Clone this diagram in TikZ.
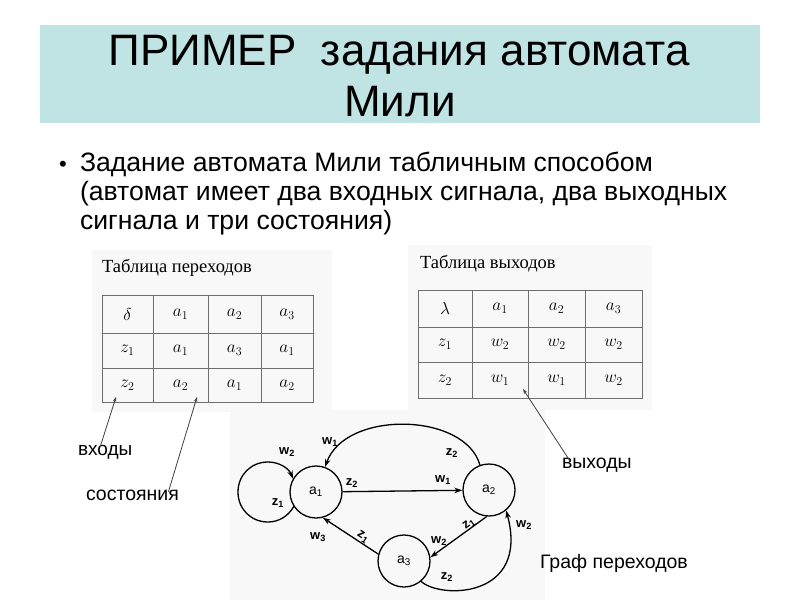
\documentclass[tikz,border=0pt]{standalone}
\usepackage{fontspec}
\setmainfont{Liberation Sans}
\newfontfamily\scanserif{Liberation Serif}
\usetikzlibrary{arrows.meta}
\definecolor{titlebg}{RGB}{192,227,228}
\definecolor{scanbg}{RGB}{248,248,248}
\definecolor{gridc}{RGB}{110,110,110}
\newcommand{\sub}[2]{#1\textsubscript{#2}}
\begin{document}
\begin{tikzpicture}[x=1pt,y=-1pt,
  txt/.style={inner sep=0pt,outer sep=0pt},
  cell/.style={inner sep=0pt,font=\fontsize{18}{18}\selectfont},
  gline/.style={draw=gridc,line width=0.8pt},
  ptr/.style={draw=black!75,line width=0.8pt,-{Stealth[length=5pt,width=3.5pt]}},
  state/.style={circle,draw,line width=1.3pt,minimum size=52pt,inner sep=0pt,font=\fontsize{14}{14}\selectfont},
  edge/.style={draw,line width=1.3pt,-{Stealth[length=8pt,width=5.5pt]}},
  elab/.style={inner sep=0pt,font=\fontsize{13}{13}\selectfont\bfseries}
]
\useasboundingbox (0,0) rectangle (800,600);
\fill[white] (0,0) rectangle (800,600);
% title band
\fill[titlebg] (40,25) rectangle (760,123);
\node[txt,anchor=base] (t1) at (399,65) {\fontsize{44}{44}\selectfont ПРИМЕР\ \ задания автомата};
\node[txt,anchor=base] (t2) at (400,116) {\fontsize{44}{44}\selectfont Мили};
% bullet text
\node[txt,anchor=base] (bul) at (63,171) {\fontsize{22}{22}\selectfont •};
\node[txt,anchor=base west] (b1) at (80,171) {\fontsize{26.6}{26.6}\selectfont Задание автомата Мили табличным способом};
\node[txt,anchor=base west] (b2) at (80,200) {\fontsize{26.6}{26.6}\selectfont (автомат имеет два входных сигнала, два выходных};
\node[txt,anchor=base west] (b3) at (80,229) {\fontsize{26.6}{26.6}\selectfont сигнала и три состояния)};
% scanned backgrounds
\fill[scanbg] (92,250) rectangle (332,412);
\fill[scanbg] (408,245) rectangle (652,410);
\fill[scanbg] (230,410) rectangle (545,600);
% left table
\node[txt,anchor=base west] (lt) at (102,272) {\fontsize{18.5}{18.5}\selectfont\scanserif Таблица переходов};
\draw[gline] (102,295) rectangle (313,402);
\draw[gline] (102,333) -- (313,333) (102,368) -- (313,368);
\draw[gline] (153,295) -- (153,402) (208,295) -- (208,402) (261,295) -- (261,402);
\node[cell] (L00) at (127.5,314) {$\delta$};
\node[cell] (L01) at (180.5,314) {$a_1$};
\node[cell] (L02) at (234.5,314) {$a_2$};
\node[cell] (L03) at (287,314) {$a_3$};
\node[cell] (L10) at (127.5,350.5) {$z_1$};
\node[cell] (L11) at (180.5,350.5) {$a_1$};
\node[cell] (L12) at (234.5,350.5) {$a_3$};
\node[cell] (L13) at (287,350.5) {$a_1$};
\node[cell] (L20) at (127.5,385) {$z_2$};
\node[cell] (L21) at (180.5,385) {$a_2$};
\node[cell] (L22) at (234.5,385) {$a_1$};
\node[cell] (L23) at (287,385) {$a_2$};
% right table
\node[txt,anchor=base west] (rt) at (420,268) {\fontsize{18.5}{18.5}\selectfont\scanserif Таблица выходов};
\draw[gline] (418,290) rectangle (642,398);
\draw[gline] (418,327) -- (642,327) (418,362) -- (642,362);
\draw[gline] (472,290) -- (472,398) (528,290) -- (528,398) (585,290) -- (585,398);
\node[cell] (R00) at (445,308.5) {$\lambda$};
\node[cell] (R01) at (500,308.5) {$a_1$};
\node[cell] (R02) at (556.5,308.5) {$a_2$};
\node[cell] (R03) at (613.5,308.5) {$a_3$};
\node[cell] (R10) at (445,344.5) {$z_1$};
\node[cell] (R11) at (500,344.5) {$w_2$};
\node[cell] (R12) at (556.5,344.5) {$w_2$};
\node[cell] (R13) at (613.5,344.5) {$w_2$};
\node[cell] (R20) at (445,380) {$z_2$};
\node[cell] (R21) at (500,380) {$w_1$};
\node[cell] (R22) at (556.5,380) {$w_1$};
\node[cell] (R23) at (613.5,380) {$w_2$};
% side labels
\node[txt,anchor=west] (vx) at (78,452) {\fontsize{19}{19}\selectfont входы};
\node[txt,anchor=west] (sost) at (86,495) {\fontsize{19.5}{19.5}\selectfont состояния};
\node[txt,anchor=west] (vyx) at (562,465) {\fontsize{19.5}{19.5}\selectfont выходы};
\node[txt,anchor=west] (graf) at (540,563) {\fontsize{19.5}{19.5}\selectfont Граф переходов};
\coordinate (vxtip) at (116,397);
\coordinate (sosttip) at (197,397);
\coordinate (vyxtip) at (523,389);
\draw[ptr] ([xshift=-5pt,yshift=-2pt]vx.north) -- (vxtip);
\draw[ptr] ([xshift=36pt,yshift=-2pt]sost.north) -- (sosttip);
\draw[ptr] ([xshift=-27pt,yshift=-3pt]vyx.north) -- (vyxtip);
% graph
\node[state] (a1) at (316,492) {\sub{a}{1}};
\node[state] (a2) at (489,490) {\sub{a}{2}};
\node[state] (a3) at (404,561) {\sub{a}{3}};
% self loop on a1
\draw[edge] (294,506) .. controls (288.8,515.8) and (279,522) .. (268,522)
  .. controls (251,522) and (238,509) .. (238,492)
  .. controls (238,475) and (251,462) .. (268,462)
  .. controls (279,462) and (288.8,468.2) .. (a1.150);
\node[elab] (l1) at (287,452) {\sub{w}{2}};
\node[elab] (l2) at (278,503) {\sub{z}{1}};
% a2 -> a1 arc
\draw[edge] (a2.110) .. controls (465,412) and (345,410) .. (a1.70);
\node[elab] (l3) at (330,442) {\sub{w}{1}};
\node[elab] (l4) at (452,453) {\sub{z}{2}};
% a1 -> a2
\draw[edge] (a1) -- (a2);
\node[elab] (l5) at (352,483) {\sub{z}{2}};
\node[elab] (l6) at (443,480) {\sub{w}{1}};
% a2 -> a3
\draw[edge] (a2.265) -- (a3.8);
\node[elab,rotate=36] (l7) at (469,524) {\sub{z}{1}};
\node[elab] (l8) at (439,541) {\sub{w}{2}};
% a3 -> a1
\draw[edge] (a3.165) -- (a1.-75);
\node[elab] (l9) at (318,537) {\sub{w}{3}};
\node[elab,rotate=-33] (l10) at (363,537) {\sub{z}{1}};
% a3 -> a2 curve
\draw[edge] (a3.-50) .. controls (440,599) and (530,599) .. (a2.-50);
\node[elab] (l11) at (447,577) {\sub{z}{2}};
\node[elab] (l12) at (524,525) {\sub{w}{2}};
\end{tikzpicture}
\end{document}
